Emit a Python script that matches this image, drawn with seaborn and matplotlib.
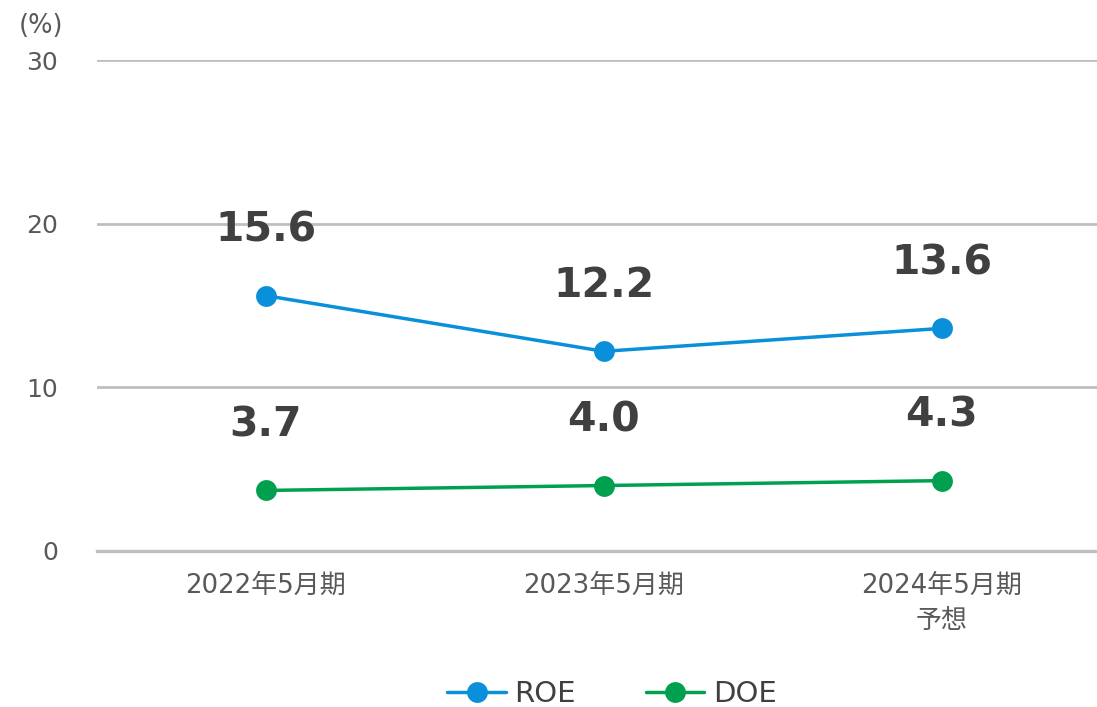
import pandas as pd
import numpy as np
import matplotlib
matplotlib.use('Agg')
import matplotlib.pyplot as plt
import seaborn as sns

# ---------- dados ----------
periodos = ['2022年5月期', '2023年5月期', '2024年5月期\n予想']
roe = [15.6, 12.2, 13.6]
doe = [3.7, 4.0, 4.3]
series = ['ROE', 'DOE']
cores = {'ROE': '#0A8FDA', 'DOE': '#00A04F'}
yticks = [0, 10, 20, 30]

df = pd.DataFrame({
    'pos': list(range(len(periodos))) * 2,
    'valor': roe + doe,
    'serie': ['ROE'] * len(roe) + ['DOE'] * len(doe),
})

sns.set_theme(style='white')
plt.rcParams['font.family'] = ['DejaVu Sans', 'Noto Sans CJK JP']

fig = plt.figure(figsize=(10.97, 7.07), dpi=100)
ax = fig.add_axes([97 / 1097, 156 / 707, 1000 / 1097, 491 / 707])

sns.lineplot(data=df, x='pos', y='valor', hue='serie', hue_order=series,
             palette=cores, marker='o', markersize=15, markeredgewidth=0,
             linewidth=2.5, ax=ax, legend=True)

# rótulos de valor
for _, row in df.iterrows():
    ax.annotate(f"{row['valor']:.1f}", (row['pos'], row['valor']),
                xytext=(0, 47), textcoords='offset points',
                ha='center', va='center', fontsize=29.5, fontweight='bold',
                color='#404040')

ax.set_xlim(-0.5, 2.46)
ax.set_ylim(0, 30)
ax.set_yticks(yticks)
ax.set_yticklabels([str(v) for v in yticks])
ax.set_xticks(range(len(periodos)))
ax.set_xticklabels(periodos, linespacing=1.45)
ax.tick_params(axis='y', length=0, pad=28, labelsize=18, labelcolor='#595959')
ax.tick_params(axis='x', length=0, pad=16, labelsize=18.7, labelcolor='#595959')
ax.set_xlabel('')
ax.set_ylabel('')
ax.grid(True, axis='y', color='#BFBFBF', linewidth=2)
ax.grid(False, axis='x')
for s in ['top', 'right', 'left']:
    ax.spines[s].set_visible(False)
ax.spines['bottom'].set_color('#BFBFBF')
ax.spines['bottom'].set_linewidth(2.4)
ax.set_axisbelow(True)

fig.text(41 / 1097, 1 - 26 / 707, '(%)', ha='center', va='center',
         fontsize=18.5, color='#595959')

leg = ax.legend(loc='center', bbox_to_anchor=(0.558, 13 / 707),
                bbox_transform=fig.transFigure, ncol=2, frameon=False,
                fontsize=21, handlelength=2.0, handletextpad=0.3,
                columnspacing=2.4)
for t in leg.get_texts():
    t.set_color('#404040')

fig.savefig('out.png', dpi=100)
